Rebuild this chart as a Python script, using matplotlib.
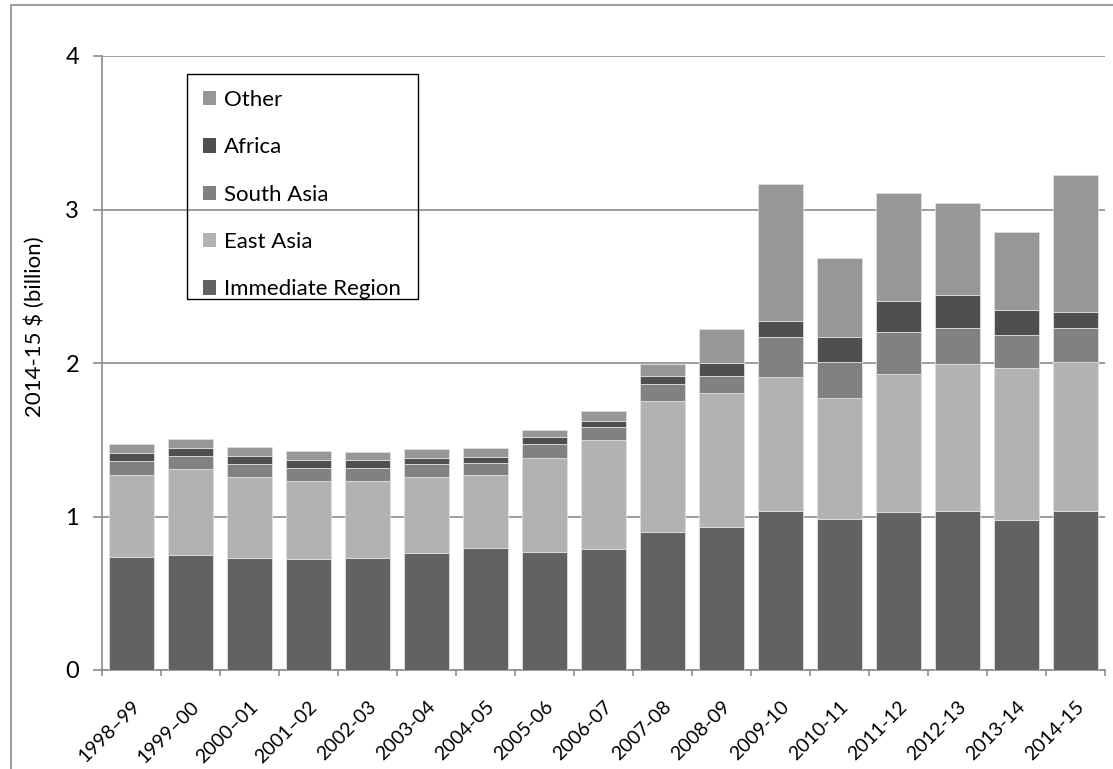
import matplotlib
matplotlib.use("Agg")
import matplotlib.pyplot as plt
from matplotlib.patches import Patch, Rectangle
from matplotlib.lines import Line2D
from matplotlib.ticker import FixedLocator, MultipleLocator
import numpy as np

plt.rcParams['font.family'] = ['Lato', 'DejaVu Sans']

years = ["1998\u201399", "1999\u201300", "2000\u201301", "2001\u201302", "2002-03",
         "2003-04", "2004-05", "2005-06", "2006-07", "2007-08", "2008-09",
         "2009-10", "2010-11", "2011-12", "2012-13", "2013-14", "2014-15"]

immediate_region = [0.737, 0.750, 0.729, 0.722, 0.727, 0.761, 0.796, 0.768, 0.787,
                    0.900, 0.929, 1.038, 0.985, 1.029, 1.038, 0.975, 1.038]
east_asia = [0.532, 0.559, 0.529, 0.510, 0.505, 0.499, 0.475, 0.614, 0.713,
             0.855, 0.876, 0.872, 0.785, 0.902, 0.954, 0.993, 0.966]
south_asia = [0.094, 0.086, 0.085, 0.087, 0.085, 0.083, 0.077, 0.090, 0.080,
              0.111, 0.113, 0.257, 0.238, 0.268, 0.233, 0.212, 0.223]
africa = [0.050, 0.053, 0.054, 0.048, 0.050, 0.039, 0.041, 0.046, 0.042,
          0.048, 0.082, 0.109, 0.163, 0.203, 0.218, 0.163, 0.105]
other = [0.061, 0.058, 0.059, 0.059, 0.055, 0.057, 0.054, 0.047, 0.066,
         0.081, 0.219, 0.891, 0.514, 0.708, 0.599, 0.508, 0.895]

series = [
    ("Immediate Region", immediate_region, "#626262"),
    ("East Asia", east_asia, "#b2b2b2"),
    ("South Asia", south_asia, "#818181"),
    ("Africa", africa, "#4f4f4f"),
    ("Other", other, "#979797"),
]

W, H = 1113, 769
fig = plt.figure(figsize=(W / 100, H / 100), dpi=100)
ax = fig.add_axes([102 / W, 1 - 670 / H, (1105 - 102) / W, (670 - 56) / H])

grid_col = "#8c8c8c"
x = np.arange(len(years))
bottom = np.zeros(len(years))
for name, vals, col in series:
    vals = np.array(vals)
    ax.bar(x, vals, width=0.76, bottom=bottom, color=col, edgecolor="#dedede",
           linewidth=0.6, zorder=3, label=name)
    bottom += vals

ax.set_xlim(-0.5, len(years) - 0.5)
ax.set_ylim(0, 4)
ax.yaxis.set_major_locator(MultipleLocator(1))
ax.grid(axis="y", color=grid_col, linewidth=1.2, zorder=0)
ax.set_axisbelow(True)

for s in ("top", "right"):
    ax.spines[s].set_visible(False)
for s in ("left", "bottom"):
    ax.spines[s].set_color(grid_col)
    ax.spines[s].set_linewidth(1.2)

ax.tick_params(axis="y", direction="out", length=6.5, width=1.2, color=grid_col,
               labelsize=17, pad=10)
ax.set_xticks(x)
ax.set_xticklabels(years, rotation=45, ha="right", va="top", rotation_mode="anchor",
                   fontsize=14)
ax.tick_params(axis="x", which="major", length=0, pad=20)
ax.xaxis.set_minor_locator(FixedLocator(np.arange(-0.5, len(years), 1.0)))
ax.tick_params(axis="x", which="minor", direction="out", length=4, width=1.2,
               color=grid_col)

fig.text(35 / W, 1 - 327 / H, "2014-15 $ (billion)", rotation=90, ha="center",
         va="center", fontsize=16)

# legend entries, listed top-down in reverse stacking order
handles = [Patch(facecolor=c, edgecolor="none") for _, _, c in series][::-1]
labels = [n for n, _, _ in series][::-1]
leg = fig.legend(handles, labels, loc="upper left",
                 bbox_to_anchor=(203 / W, 1 - 90 / H), fontsize=16,
                 frameon=False, borderaxespad=0, borderpad=0,
                 handlelength=0.6, handleheight=0.6, handletextpad=0.35,
                 labelspacing=1.23)
fig.add_artist(Rectangle((187 / W, 1 - 299 / H), (418 - 187) / W, (299 - 74) / H,
                         transform=fig.transFigure, facecolor="none",
                         edgecolor="black", linewidth=1.0, zorder=5))

# outer chart frame (left and top edges)
frame_col = "#a0a0a0"
fig.add_artist(Line2D([10.5 / W, 10.5 / W], [0, 1 - 5 / H], color=frame_col,
                      linewidth=1.5, transform=fig.transFigure))
fig.add_artist(Line2D([10.5 / W, 1], [1 - 5 / H, 1 - 5 / H], color=frame_col,
                      linewidth=1.5, transform=fig.transFigure))

fig.savefig("out.png", dpi=100)
